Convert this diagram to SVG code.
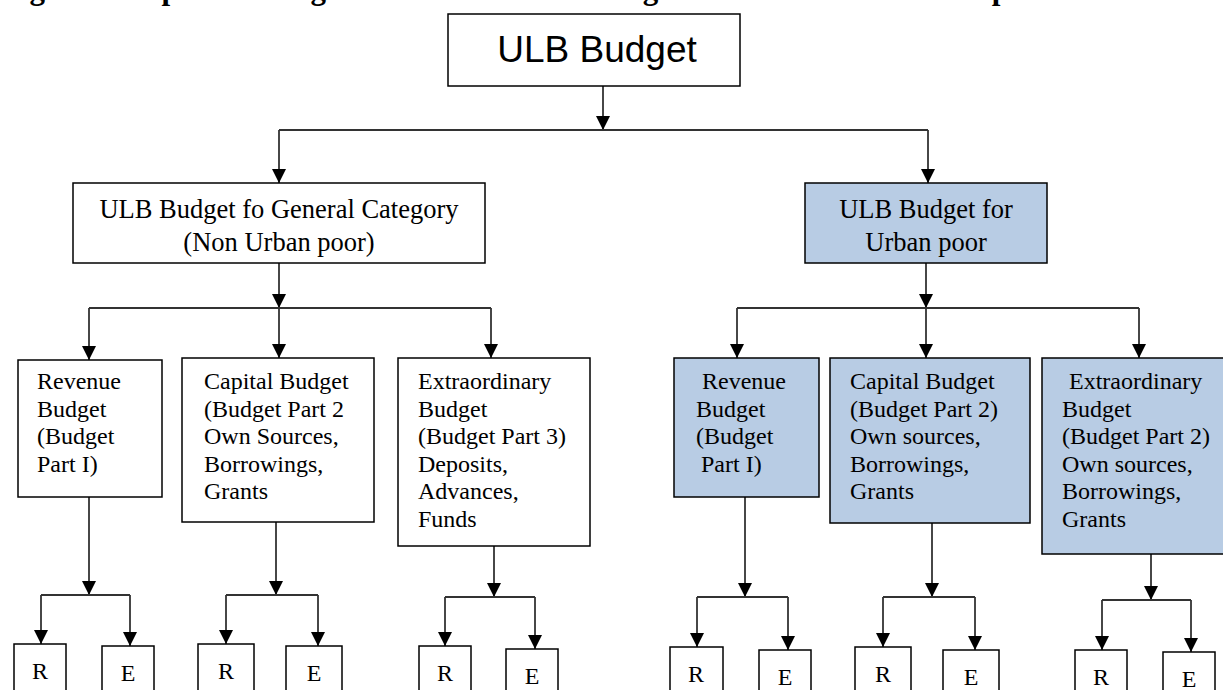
<svg xmlns="http://www.w3.org/2000/svg" width="1223" height="690" viewBox="0 0 1223 690">
<style>
.box{fill:#fff;stroke:#000;stroke-width:1.5}
.blue{fill:#B8CCE4;stroke:#000;stroke-width:1.5}
.t{font-family:"Liberation Serif","Times New Roman",serif;font-size:24px;fill:#000}
.t2{font-family:"Liberation Serif","Times New Roman",serif;font-size:26.5px;fill:#000;text-anchor:middle}
.lf{font-family:"Liberation Serif","Times New Roman",serif;font-size:24px;fill:#000;text-anchor:middle}
.c{fill:none;stroke:#333;stroke-width:1.8}
</style>
<defs>
<marker id="ah" markerUnits="userSpaceOnUse" markerWidth="14" markerHeight="14" refX="14" refY="7" orient="auto">
<path d="M0,0 L14,7 L0,14 z" fill="#000"/>
</marker>
</defs>
<rect width="1223" height="690" fill="#fff"/>
<text x="2" y="-1" font-family="Liberation Serif, serif" font-weight="bold" font-size="31px">Figure 6: Separate Budget Structure for Planning Interventions for Urban poor</text>

<g id="connectors">
<path class="c" d="M603,86 V130" marker-end="url(#ah)"/>
<path class="c" d="M279,130 H928"/>
<path class="c" d="M279,130 V183" marker-end="url(#ah)"/>
<path class="c" d="M928,130 V183" marker-end="url(#ah)"/>

<path class="c" d="M279,263 V308" marker-end="url(#ah)"/>
<path class="c" d="M89,308 H491"/>
<path class="c" d="M89,308 V360" marker-end="url(#ah)"/>
<path class="c" d="M279,308 V358" marker-end="url(#ah)"/>
<path class="c" d="M491,308 V358" marker-end="url(#ah)"/>

<path class="c" d="M926,263 V308" marker-end="url(#ah)"/>
<path class="c" d="M737,308 H1139"/>
<path class="c" d="M737,308 V358" marker-end="url(#ah)"/>
<path class="c" d="M926,308 V358" marker-end="url(#ah)"/>
<path class="c" d="M1139,308 V358" marker-end="url(#ah)"/>

<path class="c" d="M89,497 V595" marker-end="url(#ah)"/>
<path class="c" d="M41,595 H130"/>
<path class="c" d="M41,595 V644" marker-end="url(#ah)"/>
<path class="c" d="M130,595 V646" marker-end="url(#ah)"/>

<path class="c" d="M276,522 V595" marker-end="url(#ah)"/>
<path class="c" d="M226,595 H318"/>
<path class="c" d="M226,595 V644" marker-end="url(#ah)"/>
<path class="c" d="M318,595 V646" marker-end="url(#ah)"/>

<path class="c" d="M494,546 V597" marker-end="url(#ah)"/>
<path class="c" d="M445,597 H535"/>
<path class="c" d="M445,597 V646" marker-end="url(#ah)"/>
<path class="c" d="M535,597 V649" marker-end="url(#ah)"/>

<path class="c" d="M745,497 V597" marker-end="url(#ah)"/>
<path class="c" d="M697,597 H788"/>
<path class="c" d="M697,597 V647" marker-end="url(#ah)"/>
<path class="c" d="M788,597 V650" marker-end="url(#ah)"/>

<path class="c" d="M932,523 V597" marker-end="url(#ah)"/>
<path class="c" d="M883,597 H975"/>
<path class="c" d="M883,597 V647" marker-end="url(#ah)"/>
<path class="c" d="M975,597 V650" marker-end="url(#ah)"/>

<path class="c" d="M1151,554 V600" marker-end="url(#ah)"/>
<path class="c" d="M1102,600 H1191"/>
<path class="c" d="M1102,600 V650" marker-end="url(#ah)"/>
<path class="c" d="M1191,600 V652" marker-end="url(#ah)"/>
</g>

<g id="ulb-budget">
<rect class="box" x="448" y="14" width="292" height="72"/>
<text x="597" y="62" font-family="Liberation Sans, Arial, sans-serif" font-size="37px" text-anchor="middle">ULB Budget</text>
</g>

<g id="general">
<rect class="box" x="73" y="183" width="412" height="80"/>
<text class="t2" x="279" y="218">ULB Budget fo General Category</text>
<text class="t2" x="279" y="251">(Non Urban poor)</text>
</g>

<g id="urban-poor">
<rect class="blue" x="805" y="183" width="242" height="80"/>
<text class="t2" x="926" y="218">ULB Budget for</text>
<text class="t2" x="926" y="251">Urban poor</text>
</g>

<g id="g-revenue">
<rect class="box" x="18" y="360" width="144" height="137"/>
<text class="t" x="37" y="389">Revenue</text>
<text class="t" x="37" y="416.5">Budget</text>
<text class="t" x="37" y="444">(Budget</text>
<text class="t" x="37" y="471.5">Part I)</text>
</g>

<g id="g-capital">
<rect class="box" x="182" y="358" width="192" height="164"/>
<text class="t" x="204" y="389">Capital Budget</text>
<text class="t" x="204" y="416.5">(Budget Part 2</text>
<text class="t" x="204" y="444">Own Sources,</text>
<text class="t" x="204" y="471.5">Borrowings,</text>
<text class="t" x="204" y="499">Grants</text>
</g>

<g id="g-extra">
<rect class="box" x="398" y="358" width="192" height="188"/>
<text class="t" x="418" y="389">Extraordinary</text>
<text class="t" x="418" y="416.5">Budget</text>
<text class="t" x="418" y="444">(Budget Part 3)</text>
<text class="t" x="418" y="471.5">Deposits,</text>
<text class="t" x="418" y="499">Advances,</text>
<text class="t" x="418" y="526.5">Funds</text>
</g>

<g id="u-revenue">
<rect class="blue" x="674" y="358" width="145" height="139"/>
<text class="t" x="702" y="389">Revenue</text>
<text class="t" x="696" y="416.5">Budget</text>
<text class="t" x="696" y="444">(Budget</text>
<text class="t" x="701" y="471.5">Part I)</text>
</g>

<g id="u-capital">
<rect class="blue" x="830" y="358" width="200" height="165"/>
<text class="t" x="850" y="389">Capital Budget</text>
<text class="t" x="850" y="416.5">(Budget Part 2)</text>
<text class="t" x="850" y="444">Own sources,</text>
<text class="t" x="850" y="471.5">Borrowings,</text>
<text class="t" x="850" y="499">Grants</text>
</g>

<g id="u-extra">
<rect class="blue" x="1042" y="358" width="218" height="196"/>
<text class="t" x="1069" y="389">Extraordinary</text>
<text class="t" x="1062" y="416.5">Budget</text>
<text class="t" x="1062" y="444">(Budget Part 2)</text>
<text class="t" x="1062" y="471.5">Own sources,</text>
<text class="t" x="1062" y="499">Borrowings,</text>
<text class="t" x="1062" y="526.5">Grants</text>
</g>

<g id="leaf-a-r"><rect class="box" x="14" y="644" width="52" height="56"/><text class="lf" x="40" y="679">R</text></g>
<g id="leaf-a-e"><rect class="box" x="102" y="646" width="52" height="56"/><text class="lf" x="128" y="681">E</text></g>
<g id="leaf-b-r"><rect class="box" x="198" y="644" width="56" height="56"/><text class="lf" x="226" y="679">R</text></g>
<g id="leaf-b-e"><rect class="box" x="286" y="646" width="56" height="56"/><text class="lf" x="314" y="681">E</text></g>
<g id="leaf-c-r"><rect class="box" x="419" y="646" width="52" height="56"/><text class="lf" x="445" y="681">R</text></g>
<g id="leaf-c-e"><rect class="box" x="506" y="649" width="52" height="56"/><text class="lf" x="532" y="684">E</text></g>
<g id="leaf-d-r"><rect class="box" x="670" y="647" width="53" height="56"/><text class="lf" x="696" y="682">R</text></g>
<g id="leaf-d-e"><rect class="box" x="759" y="650" width="52" height="56"/><text class="lf" x="785" y="685">E</text></g>
<g id="leaf-e-r"><rect class="box" x="855" y="647" width="56" height="56"/><text class="lf" x="883" y="682">R</text></g>
<g id="leaf-e-e"><rect class="box" x="943" y="650" width="56" height="56"/><text class="lf" x="971" y="685">E</text></g>
<g id="leaf-f-r"><rect class="box" x="1075" y="650" width="52" height="56"/><text class="lf" x="1101" y="685">R</text></g>
<g id="leaf-f-e"><rect class="box" x="1163" y="652" width="52" height="56"/><text class="lf" x="1189" y="687">E</text></g>
</svg>
